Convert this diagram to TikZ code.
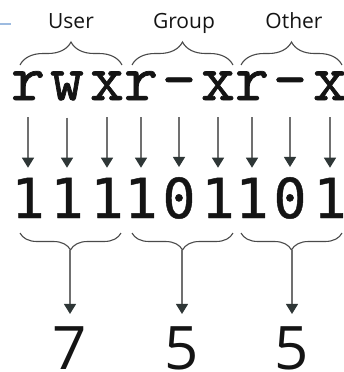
\documentclass[tikz,border=0pt]{standalone}
\usepackage{fontspec}
\setmainfont{Open Sans}
\newfontfamily\letterfont[FakeBold=1.1]{Latin Modern Mono}
\newfontfamily\digitfont[FakeBold=0.8]{DejaVu Sans Mono}
\usetikzlibrary{arrows.meta,decorations.pathreplacing}
\definecolor{txt}{HTML}{141414}
\definecolor{shaft}{HTML}{707070}
\definecolor{tip}{HTML}{2E3636}
\definecolor{brc}{HTML}{4A4A4A}
\definecolor{blueline}{HTML}{9DBBE0}
\begin{document}
\begin{tikzpicture}[x=1pt,y=-1pt,
  lab/.style={anchor=base,inner sep=0pt,text=txt,font=\fontsize{21}{21}\selectfont},
  letter/.style={anchor=base,inner sep=0pt,text=txt,font=\letterfont\fontsize{66}{66}\selectfont},
  digit/.style={anchor=base,inner sep=0pt,text=txt,font=\digitfont\fontsize{55}{55}\selectfont},
  octal/.style={anchor=base,inner sep=0pt,text=txt,font=\fontsize{60}{60}\selectfont},
  arr/.style={draw=shaft,line width=1.3pt,-{Triangle[width=12pt,length=10pt,color=tip]}},
  topbrace/.style={draw=brc,line width=1.1pt,decorate,decoration={brace,amplitude=23pt,aspect=0.5}},
  botbrace/.style={draw=brc,line width=1.1pt,decorate,decoration={brace,amplitude=17pt,aspect=0.5}}]
\useasboundingbox (0,0) rectangle (343,372);
\draw[blueline,line width=1.5pt] (0,24) -- (11,24);
% labels
\node[lab] (user) at (71,28) {User};
\node[lab] (group) at (184,28) {Group};
\node[lab] (other) at (294,28) {Other};
% top braces
\coordinate (tu1) at (20,65); \coordinate (tu2) at (122,65);
\coordinate (tg1) at (132,65); \coordinate (tg2) at (233,65);
\coordinate (to1) at (241,65); \coordinate (to2) at (342,65);
\draw[topbrace] (tu1) -- (tu2);
\draw[topbrace] (tg1) -- (tg2);
\draw[topbrace] (to1) -- (to2);
% letters
\foreach \x/\c/\n in {28/r/1,67/w/2,107/x/3,141/r/4,179/-/5,218/x/6,252/r/7,290/-/8,330/x/9}
  \node[letter] (l\n) at (\x,100) {\c};
% digits
\foreach \x/\c/\n in {28/1/1,67/1/2,107/1/3,141/1/4,179/0/5,218/1/6,252/1/7,290/0/8,330/1/9}
  \node[digit] (d\n) at (\x,218) {\c};
% arrows letters -> digits
\foreach \n in {1,...,9}
  \draw[arr,shorten <=17pt,shorten >=10pt] (l\n.south) -- (d\n.north);
% bottom braces (pointing down)
\coordinate (bu1) at (20,233); \coordinate (bu2) at (121,233);
\coordinate (bg1) at (132,233); \coordinate (bg2) at (233,233);
\coordinate (bo1) at (241,233); \coordinate (bo2) at (342,233);
\draw[botbrace] (bu2) -- (bu1);
\draw[botbrace] (bg2) -- (bg1);
\draw[botbrace] (bo2) -- (bo1);
\coordinate (mu) at (70,250);
\coordinate (mg) at (182,250);
\coordinate (mo) at (292,250);
% octal digits
\node[octal] (o1) at (70,369) {7};
\node[octal] (o2) at (182,369) {5};
\node[octal] (o3) at (292,369) {5};
\draw[arr,shorten >=12pt] (mu) -- (o1.north);
\draw[arr,shorten >=12pt] (mg) -- (o2.north);
\draw[arr,shorten >=12pt] (mo) -- (o3.north);
\end{tikzpicture}
\end{document}
